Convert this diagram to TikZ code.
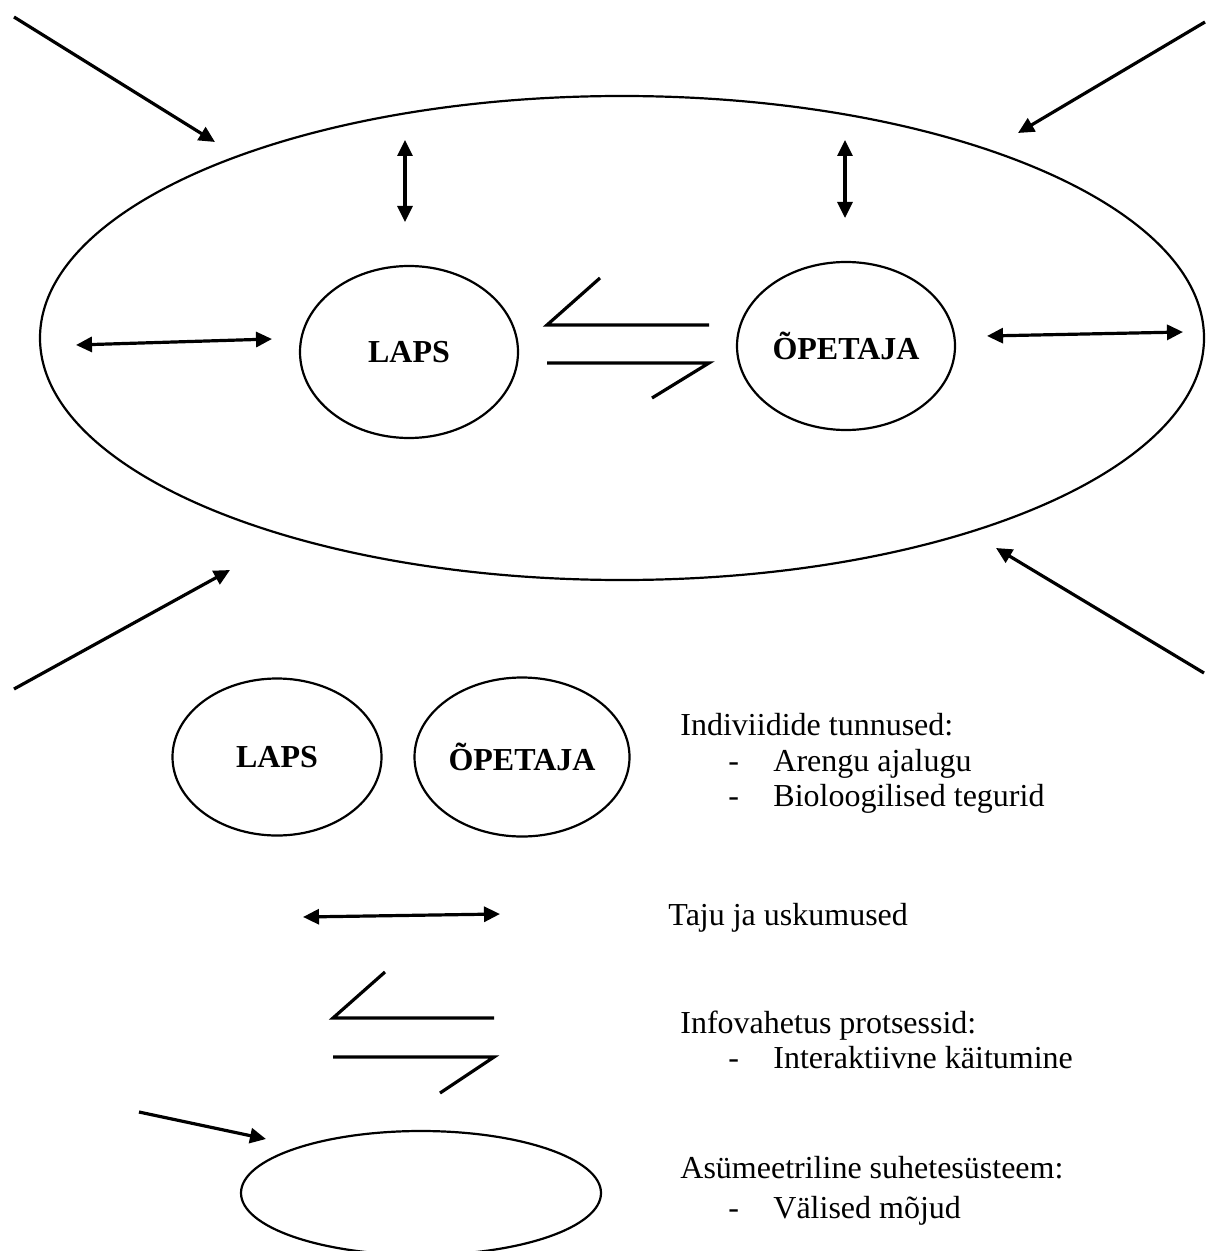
\documentclass[tikz,border=0pt]{standalone}
\usepackage{fontspec}
\setmainfont{Liberation Serif}
\usetikzlibrary{arrows.meta,shapes.geometric}

\tikzset{
  ring/.style={draw,ellipse,line width=1.1pt,inner sep=0pt},
  tag/.style={font=\fontsize{16}{19}\selectfont\bfseries},
  legendtext/.style={anchor=base west,inner sep=0pt,font=\fontsize{16}{19}\selectfont},
  push/.style={line width=1.6pt,-{Triangle[length=8pt,width=7.5pt]}},
  both/.style={line width=1.6pt,{Triangle[length=8pt,width=7.5pt]}-{Triangle[length=8pt,width=7.5pt]}},
  harpoon/.style={line width=1.6pt,line join=miter},
}

\begin{document}
\begin{tikzpicture}[x=0.5pt,y=-0.5pt]
\useasboundingbox (0,0) rectangle (1209,1251);

% system: the big ellipse and the two partners
\node[ring,minimum width=582pt,minimum height=242pt] (env) at (622,338) {};
\node[ring,tag,minimum width=109pt,minimum height=86pt] (laps) at (409,352) {LAPS};
\node[ring,tag,minimum width=109pt,minimum height=84pt] (opetaja) at (846,346) {ÕPETAJA};

% outside influences
\coordinate (tlA) at (14,17);    \coordinate (tlB) at (215,142);
\coordinate (trA) at (1205,22);  \coordinate (trB) at (1018,133);
\coordinate (blA) at (14,689);   \coordinate (blB) at (230,570);
\coordinate (brA) at (1204,673); \coordinate (brB) at (996,548);
\draw[push] (tlA)--(tlB);
\draw[push] (trA)--(trB);
\draw[push] (blA)--(blB);
\draw[push] (brA)--(brB);

% perception arrows inside
\coordinate (vlA) at (405,140);  \coordinate (vlB) at (405,222);
\coordinate (vrA) at (845,140);  \coordinate (vrB) at (845,218);
\coordinate (hlA) at (76,345);   \coordinate (hlB) at (272,339);
\coordinate (hrA) at (987,336);  \coordinate (hrB) at (1183,332);
\draw[both] (vlA)--(vlB);
\draw[both] (vrA)--(vrB);
\draw[both] (hlA)--(hlB);
\draw[both] (hrA)--(hrB);

% exchange between laps and opetaja
\coordinate (huA) at (600,278); \coordinate (huB) at (547,325); \coordinate (huC) at (709,325);
\coordinate (hdA) at (547,363); \coordinate (hdB) at (709,363); \coordinate (hdC) at (652,398);
\draw[harpoon] (huA)--(huB)--(huC);
\draw[harpoon] (hdA)--(hdB)--(hdC);

% legend
\node[ring,tag,minimum width=104.5pt,minimum height=78.5pt] (laps2) at (277,757) {LAPS};
\node[ring,tag,minimum width=107.5pt,minimum height=79.5pt] (opetaja2) at (522,757) {ÕPETAJA};

\node[legendtext] (indiv) at (680,735) {Indiviidide tunnused:};
\node[legendtext] (dash1) at (728,771) {-};
\node[legendtext] (areng) at (773,771) {Arengu ajalugu};
\node[legendtext] (dash2) at (728,806) {-};
\node[legendtext] (bio) at (773,806) {Bioloogilised tegurid};

\coordinate (lgA) at (303,917); \coordinate (lgB) at (500,914);
\draw[both] (lgA)--(lgB);
\node[legendtext] (taju) at (668,925) {Taju ja uskumused};

\coordinate (luA) at (385,972); \coordinate (luB) at (333,1018); \coordinate (luC) at (494,1018);
\coordinate (ldA) at (333,1057); \coordinate (ldB) at (494,1057); \coordinate (ldC) at (440,1093);
\draw[harpoon] (luA)--(luB)--(luC);
\draw[harpoon] (ldA)--(ldB)--(ldC);
\node[legendtext] (info) at (680,1033) {Infovahetus protsessid:};
\node[legendtext] (dash3) at (728,1068) {-};
\node[legendtext] (inter) at (773,1068) {Interaktiivne käitumine};

\node[ring,minimum width=180pt,minimum height=62pt] (env2) at (421,1193) {};
\coordinate (lpA) at (139,1112); \coordinate (lpB) at (266,1139);
\draw[push] (lpA)--(lpB);
\node[legendtext] (asym) at (680,1178) {Asümeetriline suhetesüsteem:};
\node[legendtext] (dash4) at (728,1218) {-};
\node[legendtext] (valis) at (773,1218) {Välised mõjud};
\end{tikzpicture}
\end{document}
